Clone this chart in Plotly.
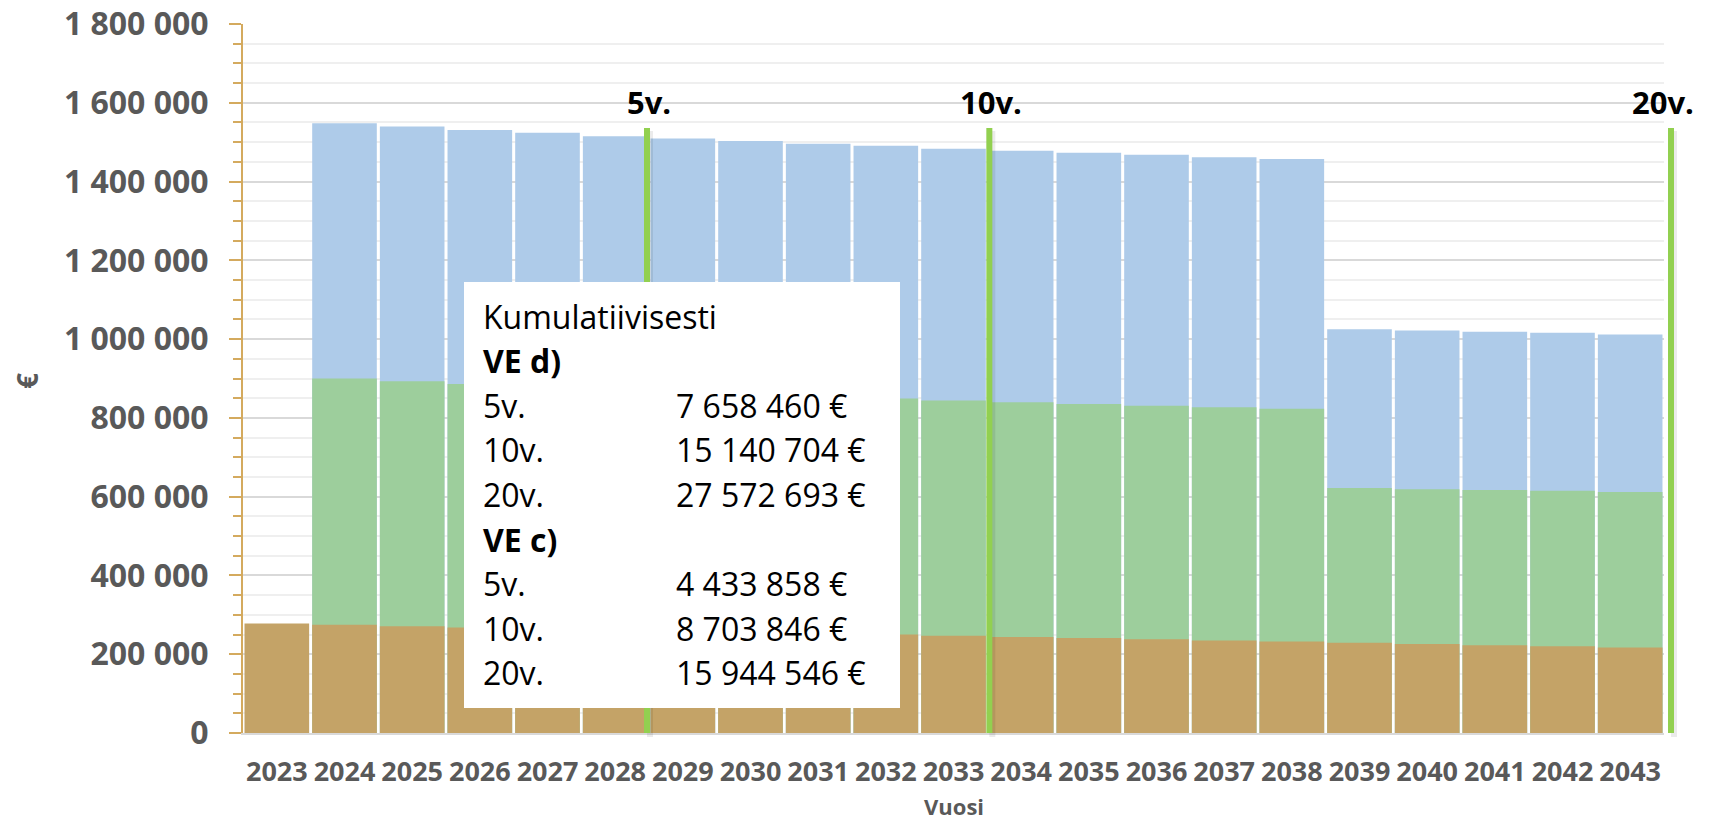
import plotly.graph_objects as go

# ---------------- data ----------------
years = list(range(2023, 2044))
ve_d = [None, 1548000, 1540000, 1531000, 1524000, 1515000, 1509000, 1503000, 1496000,
        1491000, 1483000, 1478000, 1473000, 1468000, 1462000, 1457000, 1025000, 1022000,
        1019000, 1016000, 1012000]
ve_c = [None, 900000, 893000, 886000, 880000, 875000, 864000, 859000, 854000, 849000,
        844000, 840000, 835000, 831000, 827000, 823000, 622000, 619000, 617000, 615000,
        612000]
base = [278000, 275000, 271000, 268000, 265000, 262000, 259000, 256000, 253000, 250000,
        247000, 244000, 241000, 238000, 235000, 232000, 229000, 226000, 223000, 220000,
        217000]

milestone_labels = ["5v.", "10v.", "20v."]
milestone_last_year = [2028, 2033, 2043]

summary_title = "Kumulatiivisesti"
summary_groups = ["VE d)", "VE c)"]
summary_periods = ["5v.", "10v.", "20v."]
summary_ve_d = ["7 658 460 €", "15 140 704 €", "27 572 693 €"]
summary_ve_c = ["4 433 858 €", "8 703 846 €", "15 944 546 €"]

y_title = "€"
x_title = "Vuosi"

# ---------------- layout geometry (pixels) ----------------
W, H = 1711, 822
L, R, T, B = 243, 1664, 24, 733
PW, PH = R - L, B - T
FONT = "Open Sans"
GRAY = "#595959"


def px_x(px):
    return (px - L) / PW


def px_y(py):
    return (B - py) / PH


fig = go.Figure()
colors = ["#AECBE9", "#9DCE9C", "#C4A367"]
for vals, col in zip([ve_d, ve_c, base], colors):
    fig.add_trace(go.Bar(x=years, y=vals, marker=dict(color=col, line=dict(width=0)),
                         hoverinfo="x+y"))

xr0, xr1 = years[0] - 0.5, years[-1] + 0.5
shapes = []
annotations = []
line_px_offset = [-2, 2, 7]
for lab, yr, off in zip(milestone_labels, milestone_last_year, line_px_offset):
    xp = (yr + 0.5 - xr0) / (xr1 - xr0) + off / PW
    # soft shadow
    shapes.append(dict(type="line", xref="paper", yref="paper", x0=xp + 3 / PW, x1=xp + 3 / PW,
                       y0=px_y(737), y1=px_y(131), line=dict(color="rgba(0,0,0,0.08)", width=6),
                       layer="above"))
    shapes.append(dict(type="line", xref="paper", yref="paper", x0=xp, x1=xp,
                       y0=0, y1=px_y(128), line=dict(color="#92D050", width=6), layer="above"))
    annotations.append(dict(xref="paper", yref="paper", x=xp + (-8 / PW if yr == years[-1] else 2 / PW),
                            y=px_y(102), text=f"<b>{lab}</b>", showarrow=False,
                            font=dict(family=FONT, size=31, color="#000000"),
                            xanchor="center", yanchor="middle"))

# summary box
shapes.append(dict(type="rect", xref="paper", yref="paper", x0=px_x(464), x1=px_x(900),
                   y0=px_y(708), y1=px_y(282), fillcolor="white", line=dict(width=0),
                   layer="above"))
rows = [(summary_title, None, False)]
for g, vals in zip(summary_groups, [summary_ve_d, summary_ve_c]):
    rows.append((g, None, True))
    for p, v in zip(summary_periods, vals):
        rows.append((p, v, False))
row_y0, row_dy = 316, 44.6
for i, (left, right, bold) in enumerate(rows):
    yy = px_y(row_y0 + i * row_dy)
    txt = f"<b>{left}</b>" if bold else left
    annotations.append(dict(xref="paper", yref="paper", x=px_x(481), y=yy, text=txt,
                            showarrow=False, xanchor="left", yanchor="middle",
                            font=dict(family=FONT, size=32, color="#000000")))
    if right:
        annotations.append(dict(xref="paper", yref="paper", x=px_x(674), y=yy, text=right,
                                showarrow=False, xanchor="left", yanchor="middle",
                                font=dict(family=FONT, size=32, color="#000000")))

# axis titles
annotations.append(dict(xref="paper", yref="paper", x=px_x(27), y=px_y(381), text=f"<b>{y_title}</b>",
                        showarrow=False, textangle=-90, xanchor="center", yanchor="middle",
                        font=dict(family=FONT, size=28, color=GRAY)))
annotations.append(dict(xref="paper", yref="paper", x=0.5, y=px_y(806), text=f"<b>{x_title}</b>",
                        showarrow=False, xanchor="center", yanchor="middle",
                        font=dict(family=FONT, size=22, color=GRAY)))

fig.update_layout(
    width=W, height=H,
    margin=dict(l=L, r=W - R, t=T, b=H - B, pad=0, autoexpand=False),
    barmode="overlay", bargap=0.045,
    plot_bgcolor="white", paper_bgcolor="white",
    showlegend=False,
    separators=", ",
    shapes=shapes, annotations=annotations,
    xaxis=dict(range=[xr0, xr1], tickmode="array", tickvals=years, automargin=False,
               ticktext=[str(y) for y in years], showgrid=False, zeroline=False,
               showline=True, linecolor="#D9D9D9", linewidth=2, ticks="",
               ticklabelstandoff=14,
               tickfont=dict(family=FONT, size=27, color=GRAY, weight="bold")),
    yaxis=dict(range=[0, 1800000], dtick=200000, tickformat=",d", automargin=False,
               showgrid=True, gridcolor="#D9D9D9", gridwidth=1.5, zeroline=False,
               showline=True, linecolor="#D4AA5E", linewidth=2,
               ticks="outside", ticklen=12, tickwidth=2, tickcolor="#D4AA5E",
               ticklabelstandoff=14,
               minor=dict(dtick=50000, showgrid=True, gridcolor="#EFEFEF", gridwidth=1.5,
                          ticks="outside", ticklen=8, tickwidth=2, tickcolor="#D4AA5E"),
               tickfont=dict(family=FONT, size=32, color=GRAY, weight="bold")),
)

fig.write_html("out.html", config={"displayModeBar": False},
               post_script="document.body.style.margin='0px';")
